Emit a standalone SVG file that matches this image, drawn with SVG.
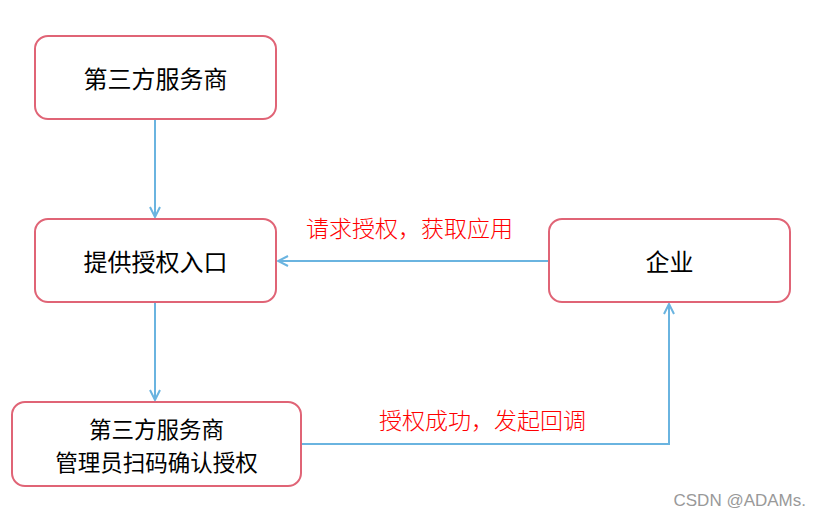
<svg xmlns="http://www.w3.org/2000/svg" width="821" height="518" viewBox="0 0 821 518">
<style>
.box{fill:#fff;stroke:#e06476;stroke-width:2}
.t{font-family:"Noto Sans CJK SC",sans-serif;font-size:24px;fill:#000;text-anchor:middle;dominant-baseline:central}
.t2{font-size:22.5px}
.lbl{font-family:"Noto Sans CJK SC",sans-serif;font-size:23px;fill:#ff0000;font-weight:300}
.c{fill:none;stroke:#6ab4e0;stroke-width:2}
</style>
<defs>
<marker id="a" viewBox="0 0 12 12" refX="11" refY="6" markerWidth="12" markerHeight="12" markerUnits="userSpaceOnUse" orient="auto">
<path d="M1,1 L11,6 L1,11" fill="none" stroke="#6ab4e0" stroke-width="2"/>
</marker>
</defs>
<rect width="821" height="518" fill="#fff"/>
<g id="connectors">
<path class="c" d="M155,120 V217" marker-end="url(#a)"/>
<path class="c" d="M549,261 H278" marker-end="url(#a)"/>
<path class="c" d="M155,303 V400" marker-end="url(#a)"/>
<path class="c" d="M302,444 H669 V304" marker-end="url(#a)"/>
<text class="lbl" x="306" y="237">请求授权，获取应用</text>
<text class="lbl" x="379" y="429">授权成功，发起回调</text>
</g>
<g id="n1"><rect class="box" x="35" y="36" width="241" height="83" rx="13"/><text class="t" x="155.5" y="77">第三方服务商</text></g>
<g id="n2"><rect class="box" x="35" y="219" width="241" height="83" rx="13"/><text class="t" x="155.5" y="260">提供授权入口</text></g>
<g id="n3"><rect class="box" x="549" y="219" width="241" height="83" rx="13"/><text class="t" x="669.5" y="260">企业</text></g>
<g id="n4"><rect class="box" x="12" y="402" width="289" height="84" rx="13"/><text class="t t2" x="156.5" y="428">第三方服务商</text><text class="t t2" x="156.5" y="461">管理员扫码确认授权</text></g>
<text x="806" y="506" font-family="Liberation Sans,Arial,sans-serif" font-size="17" fill="#999" text-anchor="end">CSDN @ADAMs.</text>
</svg>
